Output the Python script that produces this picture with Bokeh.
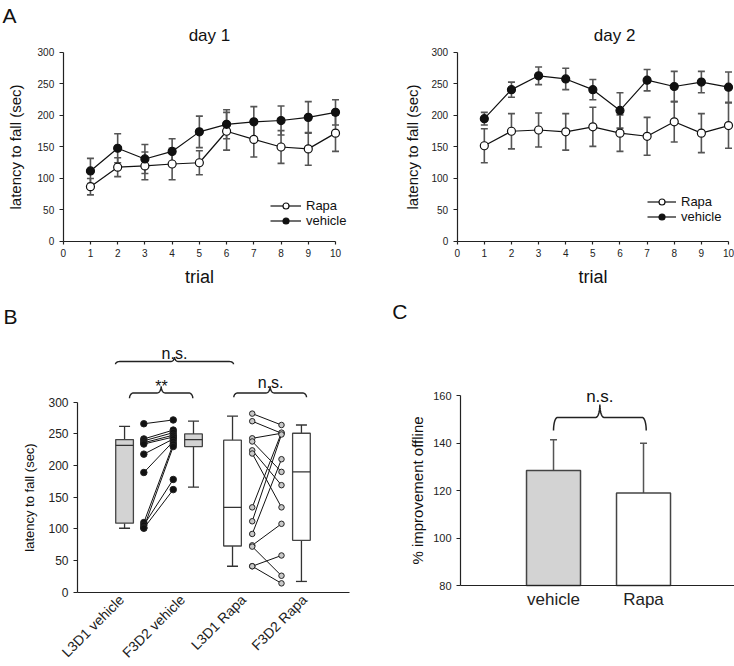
import numpy as np
from math import pi
from bokeh.plotting import figure
from bokeh.models import (ColumnDataSource, Whisker, TeeHead, Label, Legend,
                          LegendItem, FixedTicker, Range1d)
from bokeh.layouts import row, column
from bokeh.embed import file_html
from bokeh.resources import INLINE

FONT = "Liberation Sans"

# ---------------- data: panel A ----------------
trials = [1, 2, 3, 4, 5, 6, 7, 8, 9, 10]
trial_ticks = [0, 1, 2, 3, 4, 5, 6, 7, 8, 9, 10]
latency_ticks = [0, 50, 100, 150, 200, 250, 300]

day1_vehicle = [112, 148, 131, 143, 174, 186, 190, 192, 197, 205]
day1_vehicle_sem = [20, 23, 23, 20, 25, 23, 24, 23, 25, 20]
day1_rapa = [87, 118, 120, 123, 125, 175, 162, 150, 147, 172]
day1_rapa_sem = [13, 15, 22, 25, 19, 30, 28, 26, 26, 29]

day2_vehicle = [195, 241, 263, 258, 241, 208, 256, 246, 253, 245]
day2_vehicle_sem = [10, 12, 14, 17, 16, 28, 17, 24, 17, 24]
day2_rapa = [152, 175, 177, 174, 182, 172, 167, 190, 172, 184]
day2_rapa_sem = [27, 28, 27, 29, 31, 29, 30, 32, 31, 36]

# ---------------- data: panel B ----------------
b_ticks = [1, 2, 3, 4]
b_labels = ["L3D1 vehicle", "F3D2 vehicle", "L3D1 Rapa", "F3D2 Rapa"]
box_x = [1.05, 2.18, 2.82, 3.95]
box_low = [101, 166, 41, 17]
box_q1 = [109, 230, 73, 82]
box_median = [232, 241, 134, 190]
box_q3 = [241, 250, 240, 251]
box_high = [262, 270, 278, 264]
box_fill = ["#d3d3d3", "#d3d3d3", "white", "white"]

vehicle_L3D1 = [266, 242, 239, 236, 234, 218, 189, 110, 106, 102, 101]
vehicle_F3D2 = [272, 256, 252, 248, 245, 242, 238, 234, 178, 230, 162]
rapa_L3D1 = [282, 270, 243, 238, 224, 219, 134, 112, 92, 74, 72, 41, 41]
rapa_F3D2 = [264, 251, 251, 190, 169, 134, 252, 249, 210, 108, 26, 58, 14]
dots_x = [1.366, 1.848, 3.143, 3.623]

# ---------------- data: panel C ----------------
c_groups = ["vehicle", "Rapa"]
c_x = [1, 2]
c_mean = [128.5, 119.0]
c_err = [13.0, 21.0]
c_fill = ["#d3d3d3", "white"]
c_ticks = [80, 100, 120, 140, 160]


def base_fig(**kw):
    p = figure(output_backend="svg", toolbar_location=None, min_border=0,
               min_border_left=0, min_border_right=0, min_border_top=0,
               min_border_bottom=0, **kw)
    p.outline_line_color = None
    p.grid.visible = False
    p.background_fill_color = "white"
    p.border_fill_color = "white"
    return p


def style_axis(ax, size, tick_out=4):
    ax.axis_line_color = "#222"
    ax.axis_line_width = 1.2
    ax.major_tick_line_color = "#222"
    ax.major_tick_line_width = 1.2
    ax.major_tick_in = 0
    ax.major_tick_out = tick_out
    ax.minor_tick_line_color = None
    ax.major_label_text_font = FONT
    ax.major_label_text_font_size = size
    ax.major_label_text_color = "#222"
    ax.axis_label_text_font = FONT
    ax.axis_label_text_font_style = "normal"
    ax.axis_label_text_color = "#111"


def brace(x0, x1, ybot, ymid, ytop, r):
    xc = (x0 + x1) / 2.0
    t = np.linspace(0, pi / 2, 12)
    xa = x0 + r * (1 - np.cos(t))
    ya = ybot + (ymid - ybot) * np.sin(t)
    xb = xc - r + r * np.sin(t)
    yb = ymid + (ytop - ymid) * (1 - np.cos(t))
    left_x = np.concatenate([xa, xb])
    left_y = np.concatenate([ya, yb])
    right_x = 2 * xc - left_x[::-1]
    right_y = left_y[::-1]
    return np.concatenate([left_x, right_x]), np.concatenate([left_y, right_y])


def label(p, x, y, text, size, align="center", baseline="middle"):
    p.add_layout(Label(x=x, y=y, text=text, text_font=FONT, text_font_size=size,
                       text_align=align, text_baseline=baseline, text_color="#111"))


def day_panel(title, veh, veh_sem, rapa, rapa_sem, width, xr, title_x,
              leg_x, leg_y, glyph_w, ylab_standoff, letters):
    p = base_fig(width=width, height=300, x_range=Range1d(*xr),
                 y_range=Range1d(-93.65, 382.5))
    style_axis(p.xaxis[0], "10px", 3)
    style_axis(p.yaxis[0], "10px", 4)
    p.xaxis.fixed_location = 0
    p.yaxis.fixed_location = 0
    p.xaxis.bounds = (0, 10)
    p.yaxis.bounds = (0, 300)
    p.xaxis.ticker = FixedTicker(ticks=trial_ticks)
    p.yaxis.ticker = FixedTicker(ticks=latency_ticks)
    p.xaxis.major_label_standoff = 5
    p.yaxis.major_label_standoff = 5
    p.xaxis.axis_label = "trial"
    p.xaxis.axis_label_text_font_size = "18px"
    p.xaxis.axis_label_standoff = 6
    p.yaxis.axis_label = "latency to fall (sec)"
    p.yaxis.axis_label_text_font_size = "15px"
    p.yaxis.axis_label_standoff = ylab_standoff

    for vals, sem in ((veh, veh_sem), (rapa, rapa_sem)):
        v = np.array(vals, dtype=float)
        s = np.array(sem, dtype=float)
        src = ColumnDataSource(dict(x=trials, lo=v - s, hi=v + s))
        p.add_layout(Whisker(source=src, base="x", lower="lo", upper="hi",
                             line_color="#555", line_width=1.6,
                             upper_head=TeeHead(size=7, line_color="#555", line_width=1.6),
                             lower_head=TeeHead(size=7, line_color="#555", line_width=1.6)))

    lr = p.line(trials, rapa, line_color="#111", line_width=1.2)
    sr = p.scatter(trials, rapa, size=8, fill_color="white", line_color="#111", line_width=1.2)
    lv = p.line(trials, veh, line_color="#111", line_width=1.2)
    sv = p.scatter(trials, veh, size=8, fill_color="#111", line_color="#111", line_width=1.2)

    legend = Legend(items=[LegendItem(label="Rapa", renderers=[lr, sr]),
                           LegendItem(label="vehicle", renderers=[lv, sv])],
                    location=(leg_x, leg_y), border_line_color=None,
                    background_fill_alpha=0, padding=0, margin=0, spacing=0,
                    glyph_width=glyph_w, glyph_height=15, label_height=15,
                    label_standoff=5, label_text_font=FONT, label_text_font_size="13px",
                    label_text_color="#111")
    p.add_layout(legend)
    label(p, title_x, 327, title, "17px")
    for (lx, ly, txt) in letters:
        label(p, lx, ly, txt, "21px", align="left")
    return p


p1 = day_panel("day 1", day1_vehicle, day1_vehicle_sem, day1_rapa, day1_rapa_sem,
               width=367, xr=(-2.303, 11.175), title_x=5.37, leg_x=270, leg_y=72.5,
               glyph_w=31, ylab_standoff=11, letters=[(-2.229, 357.9, "A")])
p2 = day_panel("day 2", day2_vehicle, day2_vehicle_sem, day2_rapa, day2_rapa_sem,
               width=367, xr=(-3.306, 10.221), title_x=5.80, leg_x=280, leg_y=75.8,
               glyph_w=29, ylab_standoff=8, letters=[])

# ---------------- panel B ----------------
p3 = base_fig(width=367, height=366, x_range=Range1d(-0.984, 5.033),
              y_range=Range1d(-117.3, 460.6))
style_axis(p3.xaxis[0], "14px", 0)
style_axis(p3.yaxis[0], "12px", 4)
p3.xaxis.fixed_location = 0
p3.yaxis.fixed_location = 0.279
p3.xaxis.bounds = (0.279, 4.738)
p3.yaxis.bounds = (0, 300)
p3.yaxis.ticker = FixedTicker(ticks=latency_ticks)
p3.yaxis.major_label_standoff = 5
p3.yaxis.axis_label = "latency to fall (sec)"
p3.yaxis.axis_label_text_font_size = "13px"
p3.yaxis.axis_label_standoff = 8
p3.xaxis.ticker = FixedTicker(ticks=b_ticks)
p3.xaxis.major_label_overrides = {t: lab for t, lab in zip(b_ticks, b_labels)}
p3.xaxis.major_label_orientation = pi / 4
p3.xaxis.major_label_standoff = 5

box_w = 0.29
cap_w = 0.18
bx = np.array(box_x)
p3.segment(x0=bx, y0=box_q3, x1=bx, y1=box_high, line_color="#333", line_width=1.3)
p3.segment(x0=bx, y0=box_q1, x1=bx, y1=box_low, line_color="#333", line_width=1.3)
p3.segment(x0=bx - cap_w / 2, y0=box_high, x1=bx + cap_w / 2, y1=box_high, line_color="#333", line_width=1.3)
p3.segment(x0=bx - cap_w / 2, y0=box_low, x1=bx + cap_w / 2, y1=box_low, line_color="#333", line_width=1.3)
p3.vbar(x=box_x, width=box_w, bottom=box_q1, top=box_q3, fill_color=box_fill,
        line_color="#444", line_width=1.3)
p3.segment(x0=bx - box_w / 2, y0=box_median, x1=bx + box_w / 2, y1=box_median,
           line_color="#333", line_width=1.3)

for (a, b, xa, xb, fill, size) in ((vehicle_L3D1, vehicle_F3D2, dots_x[0], dots_x[1], "#111", 6.5),
                                   (rapa_L3D1, rapa_F3D2, dots_x[2], dots_x[3], "#c8c8c8", 5.5)):
    n = len(a)
    p3.segment(x0=[xa] * n, y0=a, x1=[xb] * n, y1=b, line_color="#111", line_width=1)
    p3.scatter([xa] * n, a, size=size, fill_color=fill, line_color="#222", line_width=1)
    p3.scatter([xb] * n, b, size=size, fill_color=fill, line_color="#222", line_width=1)

for (x0, x1, yb, ym, yt) in ((0.902, 2.836, 360, 364.2, 371.5),
                             (1.131, 2.169, 306.2, 314.6, 325.2),
                             (2.841, 4.033, 307.8, 314.6, 325.2)):
    xs, ys = brace(x0, x1, yb, ym, yt, 0.066)
    p3.line(xs, ys, line_color="#222", line_width=1.4)
label(p3, 1.869, 376.6, "n.s.", "16px", baseline="alphabetic")
label(p3, 1.656, 324.4, "**", "16px", baseline="alphabetic")
label(p3, 3.443, 331.8, "n.s.", "16px", baseline="alphabetic")
label(p3, -0.934, 436.1, "B", "21px", align="left")

# ---------------- panel C ----------------
p4 = base_fig(width=367, height=366, x_range=Range1d(-1.067, 3.011),
              y_range=Range1d(45.84, 200.2))
style_axis(p4.xaxis[0], "17px", 0)
style_axis(p4.yaxis[0], "11px", 4)
p4.xaxis.fixed_location = 80
p4.yaxis.fixed_location = -0.033
p4.xaxis.bounds = (-0.033, 3.011)
p4.yaxis.bounds = (80, 160)
p4.yaxis.ticker = FixedTicker(ticks=c_ticks)
p4.yaxis.major_label_standoff = 5
p4.yaxis.axis_label = "% improvement offline"
p4.yaxis.axis_label_text_font_size = "15px"
p4.yaxis.axis_label_standoff = 4
p4.xaxis.ticker = FixedTicker(ticks=c_x)
p4.xaxis.major_label_overrides = {x: g for x, g in zip(c_x, c_groups)}
p4.xaxis.major_label_standoff = 4

cm = np.array(c_mean)
ce = np.array(c_err)
csrc = ColumnDataSource(dict(x=c_x, lo=cm, hi=cm + ce))
p4.add_layout(Whisker(source=csrc, base="x", lower="lo", upper="hi", line_color="#555",
                      line_width=1.5, lower_head=None,
                      upper_head=TeeHead(size=7, line_color="#555", line_width=1.5)))
p4.vbar(x=c_x, width=0.6, bottom=80, top=c_mean, fill_color=c_fill, line_color="#444",
        line_width=1.5)
xs, ys = brace(1.0, 2.03, 145.4, 150.9, 156.3, 0.045)
p4.line(xs, ys, line_color="#222", line_width=1.5)
label(p4, 1.515, 159.7, "n.s.", "17px", baseline="alphabetic")
label(p4, -0.792, 195.6, "C", "21px", align="left")

layout = column(row(p1, p2), row(p3, p4))
open("out.html", "w").write(file_html(layout, INLINE))
